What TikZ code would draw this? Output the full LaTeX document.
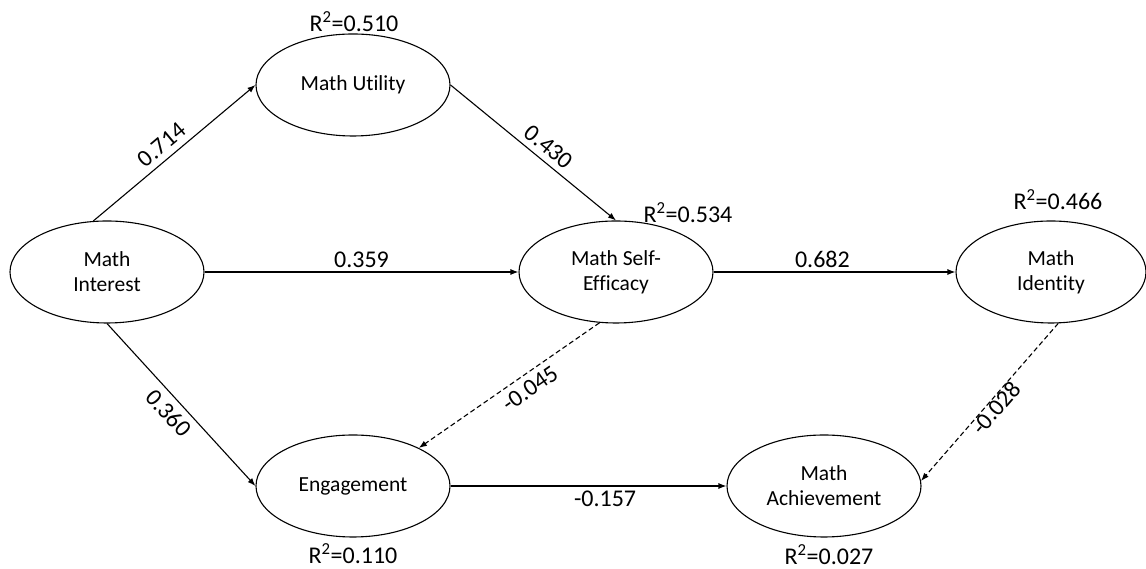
\documentclass[tikz,border=0pt]{standalone}
\usepackage{fontspec}
\setmainfont{Carlito}[Ligatures=NoCommon]
\usetikzlibrary{shapes.geometric,arrows.meta}
\tikzset{
  latent/.style={ellipse,draw,line width=1.1pt,minimum width=194pt,minimum height=102pt,inner sep=0pt,align=center,font=\fontsize{21.5}{25}\selectfont},
  path/.style={line width=1.1pt,-{Latex[length=8pt,width=6pt]}},
  dpath/.style={path,dash pattern=on 5pt off 3pt},
  coef/.style={font=\fontsize{24}{28}\selectfont,inner sep=4pt},
  scoef/.style={coef,sloped,inner sep=6pt},
  rsq/.style={font=\fontsize{24}{28}\selectfont,inner sep=0pt}
}
\begin{document}
\begin{tikzpicture}[x=1pt,y=1pt]
\useasboundingbox (0,0) rectangle (1146,569);
\node[latent] (interest) at (107,297) {Math\\Interest};
\node[latent] (utility) at (353,484) {Math Utility};
\node[latent] (selfeff) at (616,297) {Math Self-\\Efficacy};
\node[latent,minimum width=190pt] (identity) at (1051,297) {Math\\Identity};
\node[latent] (engage) at (353,83) {Engagement};
\node[latent] (achieve) at (824,83) {Math\\Achievement};

\node[rsq] (r1) at (354,547) {R\textsuperscript{2}=0.510};
\node[rsq] (r2) at (688,356) {R\textsuperscript{2}=0.534};
\node[rsq] (r3) at (1058,369) {R\textsuperscript{2}=0.466};
\node[rsq] (r4) at (353,15) {R\textsuperscript{2}=0.110};
\node[rsq] (r5) at (829,14) {R\textsuperscript{2}=0.027};

\draw[path] (interest.105) -- node[scoef,above,pos=0.48] {0.714} (utility.west);
\draw[path] (utility.east) -- node[scoef,above,pos=0.54] {0.430} (selfeff.north);
\draw[path] (interest.east) -- node[coef,above,pos=0.5] {0.359} (selfeff.west);
\draw[path] (selfeff.east) -- node[coef,above,pos=0.45] {0.682} (identity.west);
\draw[path] (interest.south) -- node[scoef,below,pos=0.49] {0.360} (engage.west);
\draw[dpath] (selfeff.252) -- node[scoef,below,pos=0.43] {-0.045} (engage.30);
\draw[path] (engage.east) -- node[coef,below,pos=0.56] {-0.157} (achieve.west);
\draw[dpath] (identity.278) -- node[coef,sloped,below=-4pt,pos=0.5] {-0.028} (achieve.3);
\end{tikzpicture}
\end{document}
